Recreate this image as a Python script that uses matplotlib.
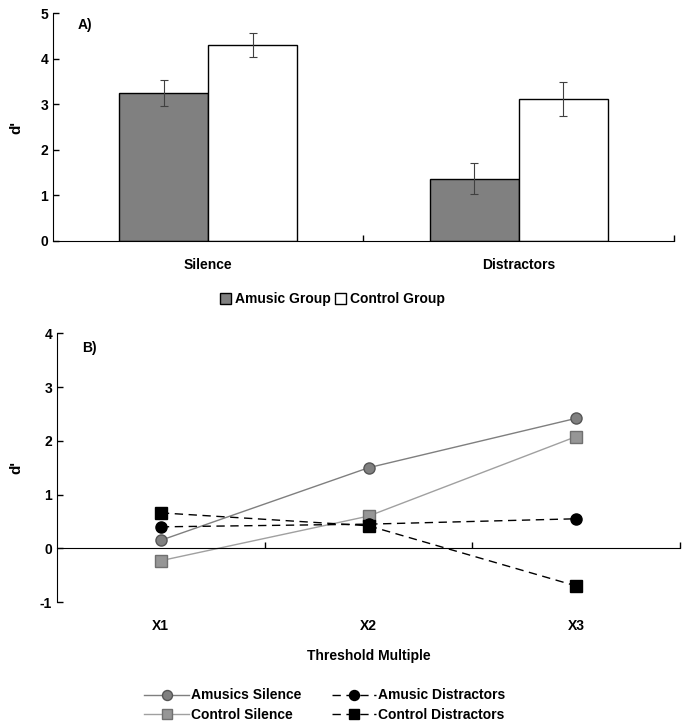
import matplotlib
matplotlib.use("Agg")
from matplotlib import pyplot as plt
import numpy as np

plt.rcParams['font.family'] = ['Liberation Sans', 'DejaVu Sans']
plt.rcParams['font.weight'] = 'bold'
plt.rcParams['axes.labelweight'] = 'bold'
plt.rcParams['axes.unicode_minus'] = False
plt.rcParams['font.size'] = 10

# panel A data
conditions = ["Silence", "Distractors"]
amusic_mean = [3.25, 1.37]
amusic_err = [0.29, 0.33]
control_mean = [4.30, 3.11]
control_err = [0.27, 0.37]

# panel B data
multiples = ["X1", "X2", "X3"]
amusics_silence = [0.15, 1.50, 2.42]
control_silence = [-0.23, 0.60, 2.08]
amusic_distractors = [0.40, 0.45, 0.55]
control_distractors = [0.66, 0.42, -0.70]

fig = plt.figure(figsize=(6.83, 7.28), dpi=100)

# ---------- A ----------
ax1 = fig.add_axes([0.0776, 0.669, 0.909, 0.313])
x = np.arange(len(conditions))
w = 0.287
ax1.bar(x - w/2, amusic_mean, w, yerr=amusic_err, color="#808080", edgecolor="black",
        linewidth=1, label="Amusic Group",
        error_kw=dict(ecolor="#404040", elinewidth=0.8, capsize=3, capthick=0.8))
ax1.bar(x + w/2, control_mean, w, yerr=control_err, color="white", edgecolor="black",
        linewidth=1, label="Control Group",
        error_kw=dict(ecolor="#404040", elinewidth=0.8, capsize=3, capthick=0.8))
ax1.set_xlim(-0.5, 1.5)
ax1.set_ylim(0, 5)
ax1.set_yticks(range(0, 6))
ax1.set_xticks([0.5, 1.5])
ax1.set_xticklabels([])
ax1.tick_params(axis='both', direction='in', length=4, width=1)
sec1 = ax1.secondary_xaxis('bottom')
sec1.set_xticks(x)
sec1.set_xticklabels(conditions)
sec1.tick_params(length=0, pad=12)
sec1.spines['bottom'].set_visible(False)
for s in ['top', 'right']:
    ax1.spines[s].set_visible(False)
ax1.set_ylabel("d'", labelpad=12, fontsize=11)
ax1.text(0.04, 0.93, "A)", transform=ax1.transAxes)
ax1.legend(loc='upper center', bbox_to_anchor=(0.45, -0.17), ncol=2, frameon=False,
           handlelength=0.8, handleheight=0.9, handletextpad=0.3, columnspacing=0.3)

# ---------- B ----------
ax2 = fig.add_axes([0.0835, 0.173, 0.9121, 0.369])
xb = np.arange(len(multiples))
l1, = ax2.plot(xb, amusics_silence, '-', color="#7f7f7f", lw=1, marker='o', ms=8,
               mfc="#808080", mec="#555555", label="Amusics Silence")
l2, = ax2.plot(xb, control_silence, '-', color="#a0a0a0", lw=1, marker='s', ms=8,
               mfc="#969696", mec="#707070", label="Control Silence")
l3, = ax2.plot(xb, amusic_distractors, '--', color="black", lw=1, marker='o', ms=8,
               mfc="black", mec="black", dashes=(6, 4), label="Amusic Distractors")
l4, = ax2.plot(xb, control_distractors, '--', color="black", lw=1, marker='s', ms=8,
               mfc="black", mec="black", dashes=(6, 4), label="Control Distractors")
ax2.set_xlim(-0.5, 2.5)
ax2.set_ylim(-1, 4)
ax2.set_yticks(range(-1, 5))
ax2.spines['bottom'].set_position(('data', 0))
ax2.set_xticks([0.5, 1.5, 2.5])
ax2.set_xticklabels([])
ax2.tick_params(axis='both', direction='in', length=4, width=1)
for s in ['top', 'right']:
    ax2.spines[s].set_visible(False)
sec2 = ax2.secondary_xaxis('bottom')
sec2.set_xticks(xb)
sec2.set_xticklabels(multiples)
sec2.tick_params(length=0, pad=12)
sec2.spines['bottom'].set_visible(False)
sec2.set_xlabel("Threshold Multiple", labelpad=12)
ax2.set_ylabel("d'", labelpad=12, fontsize=11)
ax2.text(0.04, 0.93, "B)", transform=ax2.transAxes)
leg = ax2.legend(handles=[l1, l2, l3, l4], loc='upper center', bbox_to_anchor=(0.43, -0.275),
                 ncol=2, frameon=False, markerscale=0.9,
                 handlelength=3.2, handletextpad=0.15, columnspacing=2.2, labelspacing=0.4)

plt.savefig("out.png", dpi=100)
